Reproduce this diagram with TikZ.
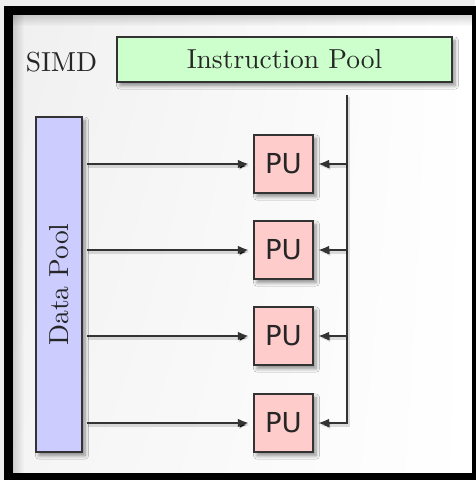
\documentclass[tikz,border=0pt]{standalone}
\usepackage{fontspec}
\newfontfamily\pufont{DejaVu Sans}
\usetikzlibrary{arrows.meta,shadows.blur,fadings,shadings}

\definecolor{ipgreen}{HTML}{CCFFCC}
\definecolor{dpblue}{HTML}{CCCCFF}
\definecolor{pupink}{HTML}{FFCCCC}
\definecolor{edge}{HTML}{333333}

\tikzfading[name=fromleft, left color=transparent!0, right color=transparent!100]
\tikzfading[name=fromtop, top color=transparent!0, bottom color=transparent!100]

\tikzset{
  softshadow/.style={blur shadow={shadow xshift=1.1pt, shadow yshift=-1.3pt,
      shadow blur radius=1.3pt, shadow blur steps=6, shadow opacity=45}},
  box/.style={draw=edge, line width=0.55pt, inner sep=0pt, outer sep=1.8pt,
      softshadow, font=\fontsize{10}{12}\selectfont, text=black!85},
  pubox/.style={box, fill=pupink, minimum width=21.45pt, minimum height=21.1pt,
      font=\pufont\fontsize{10}{12}\selectfont},
  wire/.style={draw=black!80, line width=0.75pt,
      preaction={draw=black, draw opacity=0.13, line width=1.6pt,
        transform canvas={shift={(0.45pt,-0.7pt)}}}},
  tip/.style={-{Latex[length=4.1pt,width=3.2pt]}},
}

\begin{document}
\begin{tikzpicture}[x=0.3636pt, y=-0.3636pt]
  \useasboundingbox (0,0) rectangle (475,480);

  % backdrop and panel
  \fill[black!7] (0,0) rectangle (475,480);
  \shade[upper left=black!6, upper right=white, lower left=black!4,
         lower right=white] (13,15) rectangle (472,473);
  \fill[black, opacity=0.16, path fading=fromleft] (13,15) rectangle (24,473);
  \fill[black, opacity=0.16, path fading=fromtop] (13,15) rectangle (472,26);
  \draw[line width=3.27pt] (8.5,10.5) rectangle (476.5,477.5);

  % label
  \node[font=\fontsize{10}{12}\selectfont, text=black!85] (simd) at (61.5,62) {SIMD};

  % pools
  \node[box, fill=ipgreen, minimum width=121.8pt, minimum height=16.36pt]
        (ip) at (284.5,59.5) {Instruction Pool};
  \node[box, fill=dpblue, rotate=90, minimum width=121.8pt, minimum height=16.73pt]
        (dp) at (59,284.5) {Data Pool};

  % processing units
  \node[pubox] (pu1) at (283.5,164) {PU};
  \node[pubox] (pu2) at (283.5,250) {PU};
  \node[pubox] (pu3) at (283.5,336) {PU};
  \node[pubox] (pu4) at (283.5,423) {PU};

  % instruction bus
  \coordinate (bus) at (347,95);
  \draw[wire, tip] (bus) |- (pu4.east);
  \foreach \k in {1,2,3}
    \draw[wire, tip] (bus |- pu\k) -- (pu\k.east);

  % data lines
  \foreach \k in {1,2,3,4}
    \draw[wire, tip] (dp.south |- pu\k) -- (pu\k.west);
\end{tikzpicture}
\end{document}
